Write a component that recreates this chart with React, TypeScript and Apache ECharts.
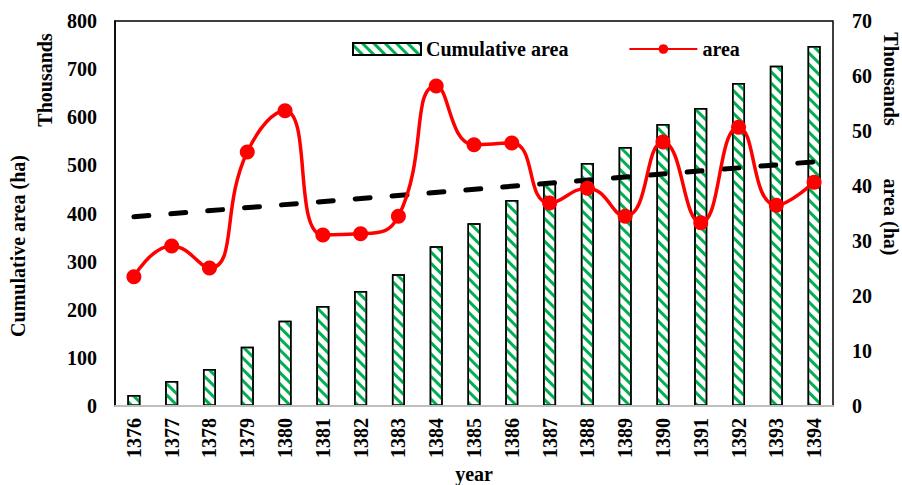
import React, { useEffect, useRef } from "react";
import * as echarts from "echarts";

const years = ["1376", "1377", "1378", "1379", "1380", "1381", "1382", "1383", "1384", "1385", "1386", "1387", "1388", "1389", "1390", "1391", "1392", "1393", "1394"];
// thousands of ha
const cumulativeArea = [23, 52, 77, 123, 177, 208, 239, 274, 332, 380, 428, 463, 505, 538, 586, 619, 671, 707, 748];
const area = [23.5, 29.1, 25.1, 46.2, 53.7, 31.1, 31.3, 34.5, 58.2, 47.5, 47.8, 36.9, 39.6, 34.5, 48.0, 33.3, 50.7, 36.5, 40.7];
const trend = [34.4, null, null, null, null, null, null, null, null, null, null, null, null, null, null, null, null, null, 44.4];
const leftTicks = { min: 0, max: 800, interval: 100 };
const rightTicks = { min: 0, max: 70, interval: 10 };

const FONT = "'Liberation Serif', 'Times New Roman', serif";

export default function App() {
  const ref = useRef<HTMLDivElement>(null);
  useEffect(() => {
    if (!ref.current) return;
    const chart = echarts.init(ref.current, null, { renderer: "svg" });
    const txt = { fontFamily: FONT, fontWeight: "bold", fontSize: 20, color: "#000" };
    chart.setOption({
      animation: false,
      backgroundColor: "#fff",
      grid: { left: 115, right: 69, top: 21, bottom: 79, show: true, borderColor: "#000", borderWidth: 1.5 },
      legend: {
        left: 347,
        top: 34,
        itemWidth: 68,
        itemHeight: 12,
        itemGap: 60,
        textStyle: { ...txt },
        data: [{ name: "Cumulative area", icon: "rect" }, { name: "area" }],
      },
      xAxis: {
        type: "category",
        data: years,
        z: 5,
        axisLine: { lineStyle: { color: "#bfbfbf", width: 2 } },
        axisTick: { show: false },
        axisLabel: { ...txt, rotate: 90, margin: 12, interval: 0 },
      },
      yAxis: [
        {
          type: "value",
          ...leftTicks,
          axisLine: { show: true, lineStyle: { color: "#000", width: 1.5 } },
          axisTick: { show: false },
          splitLine: { show: false },
          axisLabel: { ...txt, margin: 18 },
        },
        {
          type: "value",
          ...rightTicks,
          position: "right",
          axisLine: { show: false },
          axisTick: { show: false },
          splitLine: { show: false },
          axisLabel: { ...txt, margin: 19 },
        },
      ],
      graphic: [
        { type: "text", x: 18, y: 246, rotation: Math.PI / 2, style: { text: "Cumulative area (ha)", font: `bold 20px ${FONT}`, fill: "#000", align: "center", verticalAlign: "middle" } },
        { type: "text", x: 45, y: 80, rotation: Math.PI / 2, style: { text: "Thousands", font: `bold 20px ${FONT}`, fill: "#000", align: "center", verticalAlign: "middle" } },
        { type: "text", x: 891, y: 79, rotation: -Math.PI / 2, style: { text: "Thousands", font: `bold 20px ${FONT}`, fill: "#000", align: "center", verticalAlign: "middle" } },
        { type: "text", x: 891, y: 217, rotation: -Math.PI / 2, style: { text: "area (ha)", font: `bold 20px ${FONT}`, fill: "#000", align: "center", verticalAlign: "middle" } },
        { type: "text", x: 474, y: 474, style: { text: "year", font: `bold 20px ${FONT}`, fill: "#000", align: "center", verticalAlign: "middle" } },
      ],
      series: [
        {
          name: "Cumulative area",
          type: "bar",
          data: cumulativeArea,
          barWidth: 13,
          itemStyle: {
            color: "#fff",
            borderColor: "#000",
            borderWidth: 1.5,
            decal: {
              symbol: "rect",
              symbolSize: 1,
              color: "#00B050",
              backgroundColor: "transparent",
              dashArrayX: [1, 0],
              dashArrayY: [3, 5],
              rotation: Math.PI / 4,
            },
          },
        },
        {
          name: "trend",
          type: "line",
          yAxisIndex: 1,
          data: trend,
          connectNulls: true,
          symbol: "none",
          lineStyle: { color: "#000", width: 5, type: [15, 22], cap: "round" },
          z: 3,
        },
        {
          name: "area",
          type: "line",
          yAxisIndex: 1,
          data: area,
          smooth: 0.5,
          symbol: "circle",
          symbolSize: 15,
          itemStyle: { color: "#FF0000" },
          lineStyle: { color: "#FF0000", width: 3.5 },
          z: 4,
        },
      ],
    });
    return () => chart.dispose();
  }, []);
  return <div ref={ref} style={{ position: "absolute", left: 0, top: 0, width: 902, height: 485 }} />;
}
